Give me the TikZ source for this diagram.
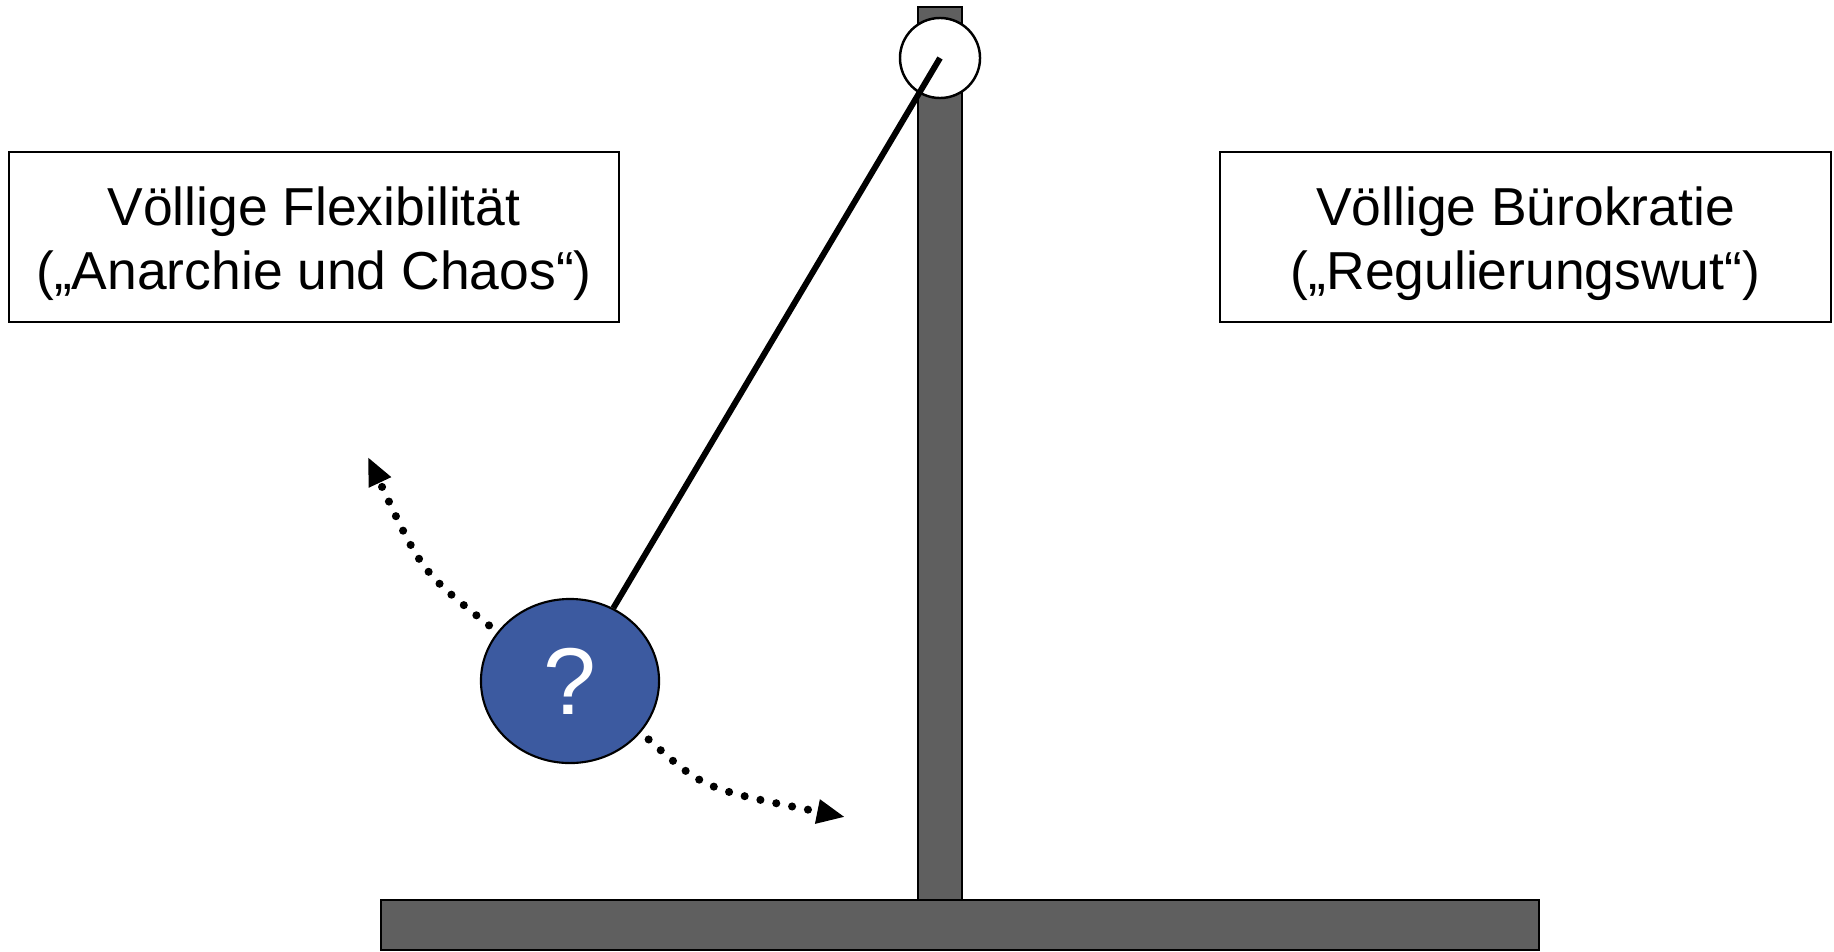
\documentclass[tikz,border=0pt]{standalone}
\usepackage{fontspec}
\setmainfont{Liberation Sans}
\usetikzlibrary{arrows.meta,shapes.geometric}
\definecolor{standGray}{HTML}{5F5F5F}
\definecolor{bobBlue}{HTML}{3C5AA0}
\tikzset{
    labelbox/.style={draw=black, line width=0.6pt, fill=white, minimum width=6.1cm,
        minimum height=1.7cm},
    labeltext/.style={align=center, inner sep=0pt, font=\fontsize{15.2}{18.2}\selectfont},
    beam/.style={fill=standGray, draw=black, line width=0.5pt},
    swing/.style={line width=2.3pt, line cap=round, dash pattern=on 0pt off 4.6pt,
        shorten <=3pt, -{Triangle[length=8pt,width=6.5pt]}}
}

\begin{document}
\begin{tikzpicture}[x=0.01cm, y=-0.01cm]
  % Canvas (pixel units, y downwards)
  \path[use as bounding box] (0,0) rectangle (1834,951);

  % Stand: post and base
  \draw[beam] (918,7) rectangle (962,900);
  \draw[beam] (381,900) rectangle (1539,950);

  % Pivot and bob
  \node[circle, draw=black, fill=white, line width=0.7pt, minimum size=0.8cm,
        inner sep=0pt] (pivot) at (940,58) {};
  \node[ellipse, draw=black, fill=bobBlue, line width=0.6pt, minimum width=1.78cm,
        minimum height=1.64cm, inner sep=0pt, text=white,
        font=\fontsize{27}{30}\selectfont] (bob) at (570,681) {?};
  \draw[line width=1.7pt] (pivot.center) -- (bob);

  % The two extremes
  \node[labelbox] (flex) at (314,237) {};
  \node[labeltext] (flexText) at ([yshift=-0.07cm]flex.center)
    {Völlige Flexibilität\\(„Anarchie und Chaos“)};
  \node[labelbox] (buero) at (1525.5,237) {};
  \node[labeltext] (bueroText) at ([yshift=-0.07cm]buero.center)
    {Völlige Bürokratie\\(„Regulierungswut“)};

  % Swing of the bob
  \coordinate (swingL) at (368,457);
  \coordinate (swingR) at (845,817);
  \draw[swing] (bob.146) .. controls (422,572) .. (swingL);
  \draw[swing] (bob.-36) .. controls (704,789) .. (swingR);
\end{tikzpicture}
\end{document}
